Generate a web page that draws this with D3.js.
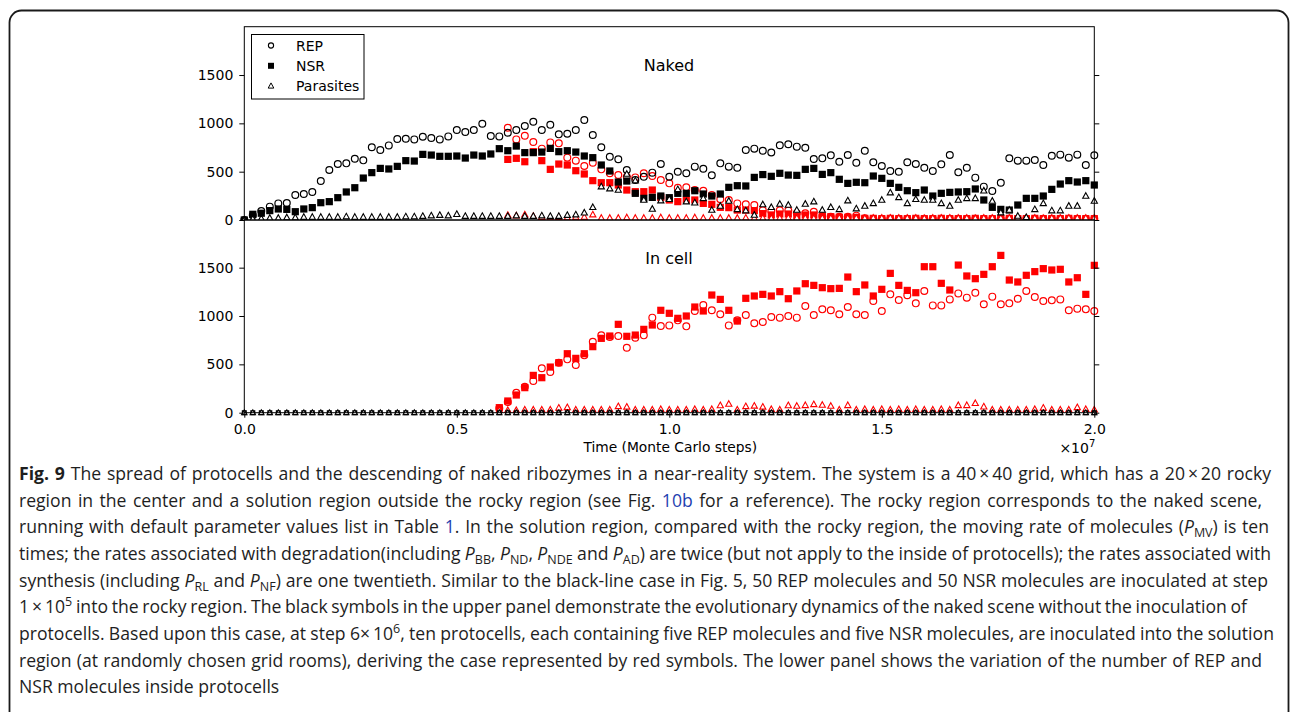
<!DOCTYPE html>
<html>
<head>
<meta charset="utf-8">
<script src="https://cdn.jsdelivr.net/npm/d3@7"></script>
<style>
  html, body { margin: 0; padding: 0; background: #fff; }
  svg { display: block; }
</style>
</head>
<body>
<svg id="fig" width="1290" height="712"></svg>
<script>
// Sampling times, in units of 1e5 Monte Carlo steps
const stepsE5 = [
  0, 2, 4, 6, 8, 10, 12, 14, 16, 18,
  20, 22, 24, 26, 28, 30, 32, 34, 36, 38,
  40, 42, 44, 46, 48, 50, 52, 54, 56, 58,
  60, 62, 64, 66, 68, 70, 72, 74, 76, 78,
  80, 82, 84, 86, 88, 90, 92, 94, 96, 98,
  100, 102, 104, 106, 108, 110, 112, 114, 116, 118,
  120, 122, 124, 126, 128, 130, 132, 134, 136, 138,
  140, 142, 144, 146, 148, 150, 152, 154, 156, 158,
  160, 162, 164, 166, 168, 170, 172, 174, 176, 178,
  180, 182, 184, 186, 188, 190, 192, 194, 196, 198,
  200
];

// Upper panel, naked scene without protocells (black)
const nakedREP = [
  0, 50, 93, 138, 172, 176, 259, 269, 290, 403,
  517, 579, 586, 634, 617, 752, 724, 772, 838, 841,
  834, 862, 848, 834, 865, 931, 910, 931, 996, 869,
  865, 903, 931, 972, 1017, 931, 986, 886, 893, 931,
  1034, 879, 752, 655, 628, 517, 414, 448, 490, 579,
  448, 500, 483, 552, 531, 462, 586, 552, 541, 724,
  738, 716, 699, 774, 783, 759, 748, 631, 638, 669,
  603, 672, 593, 717, 597, 559, 507, 500, 597, 579,
  541, 507, 576, 672, 493, 541, 438, 345, 300, 386,
  638, 614, 614, 621, 569, 665, 676, 645, 676, 569,
  669
];
const nakedNSR = [
  0, 59, 70, 97, 114, 110, 86, 114, 128, 179,
  190, 231, 290, 334, 434, 490, 534, 528, 555, 614,
  610, 679, 672, 659, 659, 662, 641, 672, 662, 683,
  738, 717, 765, 697, 697, 703, 741, 707, 717, 703,
  662, 645, 569, 507, 393, 403, 276, 224, 234, 248,
  231, 276, 276, 303, 269, 248, 269, 338, 355, 352,
  441, 470, 452, 483, 465, 462, 524, 534, 472, 490,
  421, 379, 390, 386, 455, 431, 379, 338, 303, 283,
  310, 248, 276, 286, 290, 293, 321, 207, 131, 110,
  103, 155, 224, 224, 248, 317, 372, 407, 393, 407,
  362
];
const nakedPar = [
  0, 10, 15, 20, 20, 25, 25, 30, 30, 30,
  30, 30, 35, 30, 30, 30, 30, 30, 30, 35,
  35, 40, 45, 50, 45, 60, 40, 40, 40, 40,
  40, 40, 45, 40, 40, 45, 40, 40, 50, 55,
  75, 131, 345, 324, 310, 476, 407, 207, 114, 200,
  214, 317, 190, 179, 224, 103, 145, 197, 110, 97,
  52, 160, 131, 165, 155, 103, 166, 190, 103, 131,
  110, 200, 117, 145, 172, 207, 283, 234, 172, 214,
  207, 207, 172, 145, 207, 224, 224, 303, 197, 76,
  103, 41, 28, 110, 172, 97, 97, 145, 145, 248,
  197
];

// Upper panel, naked molecules after protocell inoculation at 6e6 (red)
const protoREP = [
  null, null, null, null, null, null, null, null, null, null,
  null, null, null, null, null, null, null, null, null, null,
  null, null, null, null, null, null, null, null, null, null,
  null, 955, 834, 872, 807, 738, 803, 793, 645, 614,
  559, 593, 524, 483, 465, 448, 441, 483, 455, 414,
  379, 334, 338, 310, 303, 259, 214, 207, 172, 162,
  155, 100, 90, 100, 97, 69, 69, 86, 41, 34,
  34, 34, 45, 17, 14, 12, 14, 12, 12, 14,
  12, 12, 14, 12, 12, 12, 14, 12, 12, 12,
  14, 12, 12, 12, 14, 12, 12, 12, 12, 14,
  12
];
const protoNSR = [
  null, null, null, null, null, null, null, null, null, null,
  null, null, null, null, null, null, null, null, null, null,
  null, null, null, null, null, null, null, null, null, null,
  null, 627, 638, 603, 707, 614, 524, 579, 569, 510,
  476, 407, 386, 386, 362, 310, 293, 293, 310, 234,
  207, 190, 207, 207, 172, 162, 131, 128, 103, 103,
  97, 66, 52, 62, 62, 41, 52, 52, 41, 34,
  28, 28, 28, 17, 17, 14, 17, 14, 14, 17,
  14, 14, 17, 14, 14, 14, 17, 14, 14, 14,
  17, 14, 14, 17, 14, 14, 14, 17, 14, 14,
  14
];
const protoPar = [
  null, null, null, null, null, null, null, null, null, null,
  null, null, null, null, null, null, null, null, null, null,
  null, null, null, null, null, null, null, null, null, null,
  null, 50, 45, 55, 40, 30, 25, 30, 25, 30,
  30, 55, 20, 20, 20, 25, 20, 20, 20, 25,
  20, 20, 20, 25, 20, 20, 20, 20, 20, 22,
  20, 20, 18, 20, 22, 20, 20, 18, 20, 20,
  22, 20, 20, 18, 20, 20, 22, 20, 20, 20,
  18, 20, 20, 22, 20, 20, 18, 20, 20, 20,
  22, 20, 20, 20, 18, 20, 20, 22, 20, 20,
  20
];

// Lower panel, molecules inside protocells (red)
const cellREP = [
  null, null, null, null, null, null, null, null, null, null,
  null, null, null, null, null, null, null, null, null, null,
  null, null, null, null, null, null, null, null, null, null,
  45, 110, 207, 269, 328, 459, 421, 517, 552, 493,
  593, 734, 800, 783, 793, 672, 776, 800, 983, 896,
  903, 955, 893, 1052, 1114, 1059, 1017, 903, 955, 1010,
  924, 938, 990, 983, 1000, 983, 1103, 1010, 1069, 1059,
  1017, 1093, 1017, 1010, 1155, 1052, 1224, 1165, 1214, 1131,
  1259, 1110, 1110, 1172, 1234, 1190, 1241, 1121, 1200, 1121,
  1131, 1179, 1259, 1196, 1155, 1162, 1172, 1059, 1076, 1069,
  1052
];
const cellNSR = [
  null, null, null, null, null, null, null, null, null, null,
  null, null, null, null, null, null, null, null, null, null,
  null, null, null, null, null, null, null, null, null, null,
  52, 121, 183, 259, 386, 362, 472, 517, 610, 562,
  610, 683, 769, 793, 914, 790, 803, 862, 907, 1059,
  1028, 976, 1000, 1093, 1052, 1217, 1172, 1059, 948, 1183,
  1207, 1224, 1207, 1252, 1179, 1259, 1334, 1317, 1293, 1283,
  1286, 1403, 1252, 1321, 1207, 1276, 1441, 1317, 1265, 1241,
  1510, 1510, 1338, 1269, 1527, 1414, 1386, 1431, 1510, 1627,
  1372, 1352, 1421, 1459, 1490, 1476, 1483, 1352, 1396, 1224,
  1524
];
const cellPar = [
  null, null, null, null, null, null, null, null, null, null,
  null, null, null, null, null, null, null, null, null, null,
  null, null, null, null, null, null, null, null, null, null,
  25, 25, 25, 30, 30, 30, 30, 50, 55, 30,
  30, 30, 30, 30, 65, 60, 30, 30, 30, 35,
  30, 30, 30, 35, 30, 35, 75, 90, 30, 65,
  70, 60, 35, 30, 75, 69, 76, 86, 79, 69,
  30, 76, 30, 35, 30, 35, 30, 35, 30, 35,
  30, 30, 35, 30, 76, 76, 97, 62, 30, 30,
  30, 30, 30, 35, 50, 30, 30, 30, 55, 35,
  30
];
// Lower panel, naked scene (no protocells, so nothing inside cells)
const nakedCell = [
  0, 0, 0, 0, 0, 0, 0, 0, 0, 0,
  0, 0, 0, 0, 0, 0, 0, 0, 0, 0,
  0, 0, 0, 0, 0, 0, 0, 0, 0, 0,
  0, 0, 0, 0, 0, 0, 0, 0, 0, 0,
  0, 0, 0, 0, 0, 0, 0, 0, 0, 0,
  0, 0, 0, 0, 0, 0, 0, 0, 0, 0,
  0, 0, 0, 0, 0, 0, 0, 0, 0, 0,
  0, 0, 0, 0, 0, 0, 0, 0, 0, 0,
  0, 0, 0, 0, 0, 0, 0, 0, 0, 0,
  0, 0, 0, 0, 0, 0, 0, 0, 0, 0,
  0
];

const yTicks = [0, 500, 1000, 1500];
const xTicks = [0, 5e6, 1e7, 1.5e7, 2e7];
const legendItems = [
  { label: "REP", shape: "circle" },
  { label: "NSR", shape: "square" },
  { label: "Parasites", shape: "triangle" }
];

// Caption, line by line (b = bold, i = italic, sub/sup = sub/superscript, link = reference)
const captionLines = [
  [{ t: "Fig. 9", b: 1 }, { t: " The spread of protocells and the descending of naked ribozymes in a near-reality system. The system is a 40\u2009×\u200940 grid, which has a 20\u2009×\u200920 rocky" }],
  [{ t: "region in the center and a solution region outside the rocky region (see Fig. " }, { t: "10b", link: 1 }, { t: " for a reference). The rocky region corresponds to the naked scene," }],
  [{ t: "running with default parameter values list in Table " }, { t: "1", link: 1 }, { t: ". In the solution region, compared with the rocky region, the moving rate of molecules (" }, { t: "P", i: 1 }, { t: "MV", sub: 1 }, { t: ") is ten" }],
  [{ t: "times; the rates associated with degradation(including " }, { t: "P", i: 1 }, { t: "BB", sub: 1 }, { t: ", " }, { t: "P", i: 1 }, { t: "ND", sub: 1 }, { t: ", " }, { t: "P", i: 1 }, { t: "NDE", sub: 1 }, { t: " and " }, { t: "P", i: 1 }, { t: "AD", sub: 1 }, { t: ") are twice (but not apply to the inside of protocells); the rates associated with" }],
  [{ t: "synthesis (including " }, { t: "P", i: 1 }, { t: "RL", sub: 1 }, { t: " and " }, { t: "P", i: 1 }, { t: "NF", sub: 1 }, { t: ") are one twentieth. Similar to the black-line case in Fig. 5, 50 REP molecules and 50 NSR molecules are inoculated at step" }],
  [{ t: "1\u2009×\u200910" }, { t: "5", sup: 1 }, { t: " into the rocky region. The black symbols in the upper panel demonstrate the evolutionary dynamics of the naked scene without the inoculation of" }],
  [{ t: "protocells. Based upon this case, at step 6×\u200910" }, { t: "6", sup: 1 }, { t: ", ten protocells, each containing five REP molecules and five NSR molecules, are inoculated into the solution" }],
  [{ t: "region (at randomly chosen grid rooms), deriving the case represented by red symbols. The lower panel shows the variation of the number of REP and" }],
  [{ t: "NSR molecules inside protocells" }]
];
// Right edge of each wrapped caption line (last line is left ragged)
const captionLineEnds = [1271, 1262, 1269, 1271, 1268, 1247, 1274, 1262, null];

const svg = d3.select("#fig");
const RED = "#ff0000", BLACK = "#000000";
const axisFont = "'DejaVu Sans', sans-serif";

// Layout
const plotL = 244.3, plotR = 1094.3;
const upTop = 26.7, upBot = 220, lowTop = 220, lowBot = 412.7;

const x = d3.scaleLinear().domain([0, 2e7]).range([plotL, plotR]);
const yUp = d3.scaleLinear().domain([0, 2000]).range([upBot, upTop]);
const yLow = d3.scaleLinear().domain([0, 1993]).range([lowBot, lowTop]);

const steps = stepsE5.map(s => s * 1e5);

// Outer rounded frame around the figure
svg.append("rect")
  .attr("x", 9.5).attr("y", 10.5).attr("width", 1279).attr("height", 730)
  .attr("rx", 12).attr("fill", "none").attr("stroke", "#1a1a1a").attr("stroke-width", 1.8);

// Marker generators
function drawMarkers(g, values, yScale, shape, color, size) {
  const pts = values.map((v, i) => ({ x: x(steps[i]), y: v == null ? null : yScale(v) }))
                    .filter(p => p.y != null);
  if (shape === "circle") {
    g.selectAll(null).data(pts).enter().append("circle")
      .attr("cx", d => d.x).attr("cy", d => d.y).attr("r", size)
      .attr("fill", "none").attr("stroke", color).attr("stroke-width", 1.2);
  } else if (shape === "square") {
    g.selectAll(null).data(pts).enter().append("rect")
      .attr("x", d => d.x - size / 2).attr("y", d => d.y - size / 2)
      .attr("width", size).attr("height", size)
      .attr("fill", color).attr("stroke", "none");
  } else {
    const h = size * 0.9, w = size / 2;
    g.selectAll(null).data(pts).enter().append("path")
      .attr("d", d => `M${d.x},${d.y - h * 0.6}L${d.x + w},${d.y + h * 0.4}L${d.x - w},${d.y + h * 0.4}Z`)
      .attr("fill", "#fff").attr("stroke", color).attr("stroke-width", 1.1);
  }
}

// Clip each panel to its frame
const defs = svg.append("defs");
defs.append("clipPath").attr("id", "clipUp").append("rect")
  .attr("x", plotL - 6).attr("y", upTop).attr("width", plotR - plotL + 12).attr("height", upBot - upTop);
defs.append("clipPath").attr("id", "clipLow").append("rect")
  .attr("x", plotL - 6).attr("y", lowTop).attr("width", plotR - plotL + 12).attr("height", lowBot - lowTop + 6);

// Upper panel: naked molecules
const gUp = svg.append("g").attr("clip-path", "url(#clipUp)");
drawMarkers(gUp, protoREP, yUp, "circle", RED, 3.4);
drawMarkers(gUp, protoNSR, yUp, "square", RED, 7.2);
drawMarkers(gUp, protoPar, yUp, "triangle", RED, 6.2);
drawMarkers(gUp, nakedREP, yUp, "circle", BLACK, 3.4);
drawMarkers(gUp, nakedNSR, yUp, "square", BLACK, 7.2);
drawMarkers(gUp, nakedPar, yUp, "triangle", BLACK, 6.2);

// Lower panel: molecules inside protocells
const gLow = svg.append("g").attr("clip-path", "url(#clipLow)");
drawMarkers(gLow, cellREP, yLow, "circle", RED, 3.4);
drawMarkers(gLow, cellNSR, yLow, "square", RED, 7.2);
drawMarkers(gLow, cellPar, yLow, "triangle", RED, 6.2);
drawMarkers(gLow, nakedCell, yLow, "square", BLACK, 5);
drawMarkers(gLow, nakedCell, yLow, "triangle", BLACK, 5.4);

// Panel frames
[[upTop, upBot], [lowTop, lowBot]].forEach(([t, b]) => {
  svg.append("rect").attr("x", plotL).attr("y", t).attr("width", plotR - plotL).attr("height", b - t)
    .attr("fill", "none").attr("stroke", "#000").attr("stroke-width", 1);
});

// Axes
function styleAxis(g) {
  g.select(".domain").remove();
  g.selectAll(".tick line").attr("stroke", "#000").attr("stroke-width", 1);
  g.selectAll(".tick text").attr("font-family", axisFont).attr("font-size", 14).attr("fill", "#000");
}
[[yUp], [yLow]].forEach(([ys]) => {
  svg.append("g").attr("transform", `translate(${plotL},0)`)
    .call(d3.axisLeft(ys).tickValues(yTicks).tickSize(5).tickPadding(6).tickFormat(d3.format("d")))
    .call(styleAxis);
  svg.append("g").attr("transform", `translate(${plotR},0)`)
    .call(d3.axisRight(ys).tickValues(yTicks).tickSize(5).tickFormat(""))
    .call(styleAxis);
});
svg.append("g").attr("transform", `translate(0,${lowBot})`)
  .call(d3.axisBottom(x).tickValues(xTicks).tickSize(5).tickPadding(6.5).tickFormat(d => (d / 1e7).toFixed(1)))
  .call(styleAxis);

// Axis annotations
svg.append("text").attr("x", (plotL + plotR) / 2 + 1).attr("y", 452)
  .attr("text-anchor", "middle").attr("font-family", axisFont).attr("font-size", 13.8)
  .text("Time (Monte Carlo steps)");
const mult = svg.append("text").attr("x", plotR + 1).attr("y", 453)
  .attr("text-anchor", "end").attr("font-family", axisFont).attr("font-size", 14);
mult.append("tspan").text("×10");
mult.append("tspan").attr("dy", -6).attr("font-size", 10).text("7");

// Panel titles
svg.append("text").attr("x", 669).attr("y", 71).attr("text-anchor", "middle")
  .attr("font-family", axisFont).attr("font-size", 16).text("Naked");
svg.append("text").attr("x", 669).attr("y", 264).attr("text-anchor", "middle")
  .attr("font-family", axisFont).attr("font-size", 16).text("In cell");

// Legend
const leg = svg.append("g");
leg.append("rect").attr("x", 251.5).attr("y", 34.5).attr("width", 112.5).attr("height", 64.5)
  .attr("fill", "#fff").attr("stroke", "#000").attr("stroke-width", 1);
legendItems.forEach((it, k) => {
  const cy = 45.5 + k * 20.3, cx = 271;
  if (it.shape === "circle") {
    leg.append("circle").attr("cx", cx).attr("cy", cy).attr("r", 2.6)
      .attr("fill", "none").attr("stroke", "#000").attr("stroke-width", 1.1);
  } else if (it.shape === "square") {
    leg.append("rect").attr("x", cx - 3).attr("y", cy - 3).attr("width", 6).attr("height", 6).attr("fill", "#000");
  } else {
    leg.append("path").attr("d", `M${cx},${cy - 3.2}L${cx + 2.8},${cy + 2}L${cx - 2.8},${cy + 2}Z`)
      .attr("fill", "#fff").attr("stroke", "#000").attr("stroke-width", 1);
  }
  leg.append("text").attr("x", 296).attr("y", cy + 5)
    .attr("font-family", axisFont).attr("font-size", 14).text(it.label);
});

// Caption
const capFont = "'Open Sans', 'Noto Sans', sans-serif";
const capX = 19;
captionLines.forEach((segs, li) => {
  const t = svg.append("text").attr("x", capX).attr("y", 480 + li * 26.65)
    .attr("font-family", capFont).attr("font-size", 17.6).attr("fill", "#1e1e1e");
  let shift = 0;
  segs.forEach(s => {
    const sp = t.append("tspan").text(s.t);
    let target = 0;
    if (s.sub) target = 4;
    if (s.sup) target = -7;
    if (target !== shift) { sp.attr("dy", target - shift); shift = target; }
    if (s.sub || s.sup) sp.attr("font-size", 12.5);
    if (s.b) sp.attr("font-weight", "bold");
    if (s.i) sp.attr("font-style", "italic");
    if (s.link) sp.attr("fill", "#1f3fb0");
  });
  // Spread the words so the line fills its measure
  const end = captionLineEnds[li];
  if (end != null) {
    const natural = t.node().getComputedTextLength();
    const spaces = segs.map(s => s.t).join("").split(" ").length - 1;
    const extra = (end - capX - natural) / Math.max(spaces, 1);
    t.attr("word-spacing", extra.toFixed(2));
  }
});
</script>
</body>
</html>
